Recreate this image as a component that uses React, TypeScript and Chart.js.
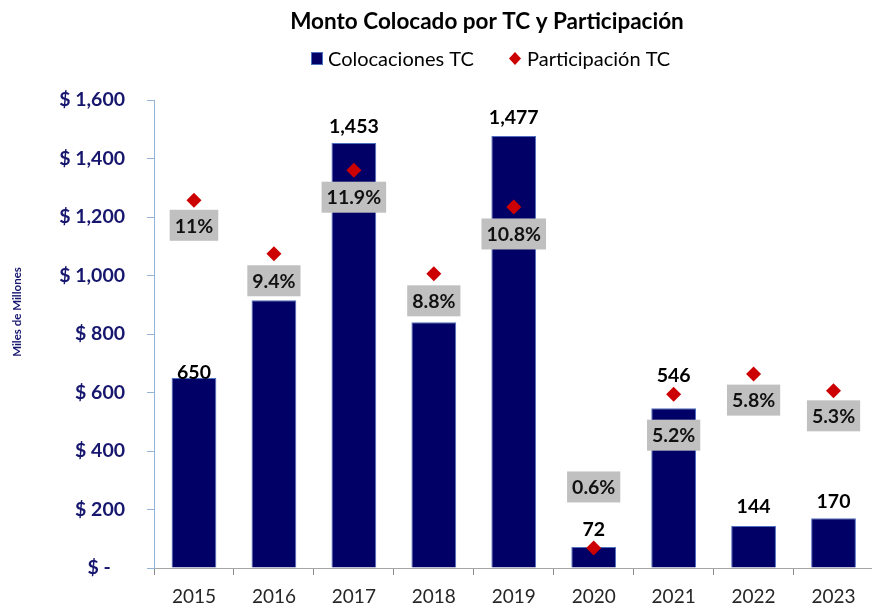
import React, { useEffect, useRef } from 'react';
import { Chart, registerables } from 'chart.js';

Chart.register(...registerables);

// ---- data ----
const years = ['2015', '2016', '2017', '2018', '2019', '2020', '2021', '2022', '2023'];
const colocaciones = [650, 915, 1453, 840, 1477, 72, 546, 144, 170];
const participacion = [11.0, 9.4, 11.9, 8.8, 10.8, 0.6, 5.2, 5.8, 5.3];
const participacionLabels = ['11%', '9.4%', '11.9%', '8.8%', '10.8%', '0.6%', '5.2%', '5.8%', '5.3%'];
const showBarLabel = [true, false, true, false, true, true, true, true, true];
const yTickValues = [0, 200, 400, 600, 800, 1000, 1200, 1400, 1600];

const TITLE = 'Monto Colocado por TC y Participación';
const LEGEND_BAR = 'Colocaciones TC';
const LEGEND_PT = 'Participación TC';
const Y_TITLE = 'Miles de Millones';

// label placement (pixels) - styling only
const barLabelGap = [5, 0, 16, 0, 18, 17, 33, 19, 17];
const pctBoxShift = [25, 27, 27, 27, 27, -61, 41, 26, 25];

const FONT = 'Lato, "Open Sans", sans-serif';
const NAVY = '#000066';
const AXIS_TEXT = '#16166e';
const DIAMOND = '#cc0000';

const formatMoney = (v: number) => (v === 0 ? '$ -   ' : '$ ' + v.toLocaleString('en-US'));

const labelsPlugin = {
  id: 'customLabels',
  afterDatasetsDraw(chart: any) {
    const ctx = chart.ctx as CanvasRenderingContext2D;
    const barMeta = chart.getDatasetMeta(0);
    const ptMeta = chart.getDatasetMeta(1);
    ctx.save();
    ctx.textAlign = 'center';
    ctx.textBaseline = 'middle';
    ctx.font = `bold 19.5px ${FONT}`;
    // bar value labels
    barMeta.data.forEach((bar: any, i: number) => {
      if (!showBarLabel[i]) return;
      ctx.fillStyle = '#000000';
      ctx.fillText(colocaciones[i].toLocaleString('en-US'), bar.x, bar.y - barLabelGap[i]);
    });
    // percentage boxes
    ptMeta.data.forEach((pt: any, i: number) => {
      const text = participacionLabels[i];
      const w = ctx.measureText(text).width + 10;
      const h = 31;
      const cy = pt.y + pctBoxShift[i];
      ctx.fillStyle = '#c0c0c0';
      ctx.fillRect(pt.x - w / 2, cy - h / 2, w, h);
      ctx.fillStyle = '#111111';
      ctx.fillText(text, pt.x, cy + 1);
    });
    ctx.restore();
  },
};

const headerPlugin = {
  id: 'header',
  afterDraw(chart: any) {
    const ctx = chart.ctx as CanvasRenderingContext2D;
    ctx.save();
    ctx.textBaseline = 'middle';
    // title
    ctx.fillStyle = '#000000';
    ctx.textAlign = 'center';
    ctx.font = `bold 22.5px ${FONT}`;
    ctx.fillText(TITLE, 487, 22);
    // legend
    ctx.font = `20px ${FONT}`;
    ctx.textAlign = 'left';
    ctx.fillStyle = NAVY;
    ctx.fillRect(311, 52, 12, 13);
    ctx.strokeStyle = '#4f6fbf';
    ctx.lineWidth = 1;
    ctx.strokeRect(311.5, 52.5, 11, 12);
    ctx.fillStyle = '#000000';
    ctx.fillText(LEGEND_BAR, 328, 60);
    ctx.fillStyle = DIAMOND;
    ctx.beginPath();
    ctx.moveTo(515, 52);
    ctx.lineTo(521, 58.5);
    ctx.lineTo(515, 65);
    ctx.lineTo(509, 58.5);
    ctx.closePath();
    ctx.fill();
    ctx.fillStyle = '#000000';
    ctx.fillText(LEGEND_PT, 527, 60);
    // y axis title
    ctx.save();
    ctx.translate(17, 312);
    ctx.rotate(-Math.PI / 2);
    ctx.textAlign = 'center';
    ctx.font = `bold 11.5px ${FONT}`;
    ctx.fillStyle = AXIS_TEXT;
    ctx.fillText(Y_TITLE, 0, 0);
    ctx.restore();
    ctx.restore();
  },
};

export default function App() {
  const canvasRef = useRef<HTMLCanvasElement | null>(null);

  useEffect(() => {
    if (!canvasRef.current) return;
    const chart = new Chart(canvasRef.current, {
      type: 'bar',
      data: {
        labels: years,
        datasets: [
          {
            type: 'bar',
            label: LEGEND_BAR,
            data: colocaciones,
            backgroundColor: NAVY,
            borderColor: '#4f6fbf',
            borderWidth: 1,
            barPercentage: 0.56,
            categoryPercentage: 1,
            yAxisID: 'y',
            order: 1,
          },
          {
            type: 'line',
            label: LEGEND_PT,
            data: participacion,
            showLine: false,
            pointStyle: 'rectRot',
            pointRadius: 7.5,
            pointBackgroundColor: DIAMOND,
            pointBorderColor: DIAMOND,
            pointBorderWidth: 0,
            yAxisID: 'y1',
            order: 0,
          } as any,
        ],
      },
      options: {
        animation: false,
        responsive: false,
        maintainAspectRatio: false,
        devicePixelRatio: 1,
        layout: { padding: { top: 100, left: 0, right: 0, bottom: 0 } },
        plugins: {
          legend: { display: false },
          title: { display: false },
          tooltip: { enabled: false },
        },
        scales: {
          x: {
            offset: true,
            grid: {
              offset: true,
              drawOnChartArea: false,
              drawTicks: true,
              tickLength: 7,
              tickColor: '#8c8c8c',
            },
            border: { display: true, color: '#a6a6a6', width: 1 },
            ticks: {
              color: '#262626',
              font: { family: FONT, size: 19 },
              padding: 10,
              maxRotation: 0,
            },
            afterFit: (scale: any) => {
              scale.height = 39;
            },
          },
          y: {
            position: 'left',
            min: 0,
            max: 1600,
            afterBuildTicks: (scale: any) => {
              scale.ticks = yTickValues.map((v) => ({ value: v }));
            },
            grid: {
              drawOnChartArea: false,
              drawTicks: true,
              tickLength: 7,
              tickColor: '#95b3d7',
            },
            border: { display: true, color: '#95b3d7', width: 1 },
            ticks: {
              color: AXIS_TEXT,
              font: { family: FONT, size: 19.5, weight: 'bold' },
              padding: 22,
              callback: (v: any) => formatMoney(Number(v)),
            },
            afterFit: (scale: any) => {
              scale.width = 154;
            },
          },
          y1: {
            position: 'right',
            display: false,
            min: 0,
            max: 14,
          },
        },
      },
      plugins: [labelsPlugin, headerPlugin],
    });
    return () => chart.destroy();
  }, []);

  return (
    <div
      style={{
        position: 'absolute',
        left: 0,
        top: 0,
        width: 872,
        height: 607,
        overflow: 'hidden',
        background: '#ffffff',
      }}
    >
      <canvas
        ref={canvasRef}
        width={881}
        height={607}
        style={{ display: 'block', width: 881, height: 607 }}
      />
    </div>
  );
}
